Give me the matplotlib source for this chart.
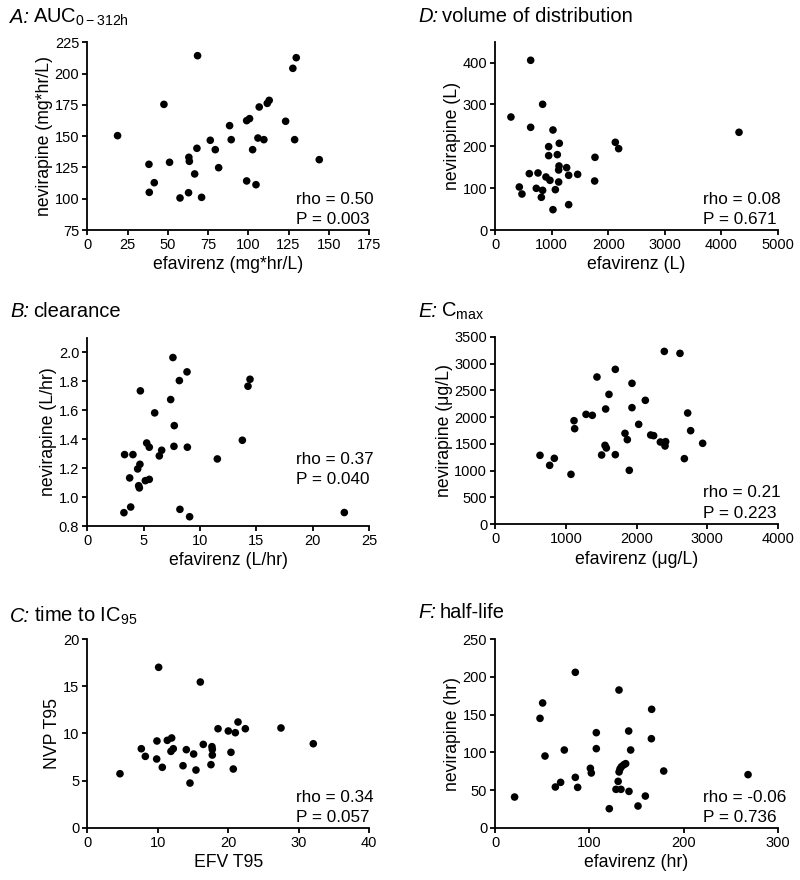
import matplotlib
matplotlib.use("Agg")
import matplotlib.pyplot as plt
import numpy as np

plt.rcParams['font.family'] = ['Liberation Sans', 'DejaVu Sans']
plt.rcParams['mathtext.fontset'] = 'custom'
plt.rcParams['mathtext.rm'] = 'Liberation Sans'
plt.rcParams['mathtext.it'] = 'Liberation Sans:italic'

# Panel A: AUC
a_efv = [18.8, 38.3, 38.5, 41.6, 47.6, 51.1, 57.6, 62.9, 63.1, 63.4, 66.7, 68.1, 68.5, 71.0,
         76.4, 79.5, 81.6, 88.4, 89.4, 99.0, 99.0, 100.8, 102.7, 104.8, 106.0, 106.8, 109.7,
         111.8, 113.0, 123.2, 127.7, 128.8, 129.8, 144.1]
a_nvp = [150.4, 127.5, 105.1, 112.8, 175.4, 129.1, 100.6, 104.8, 133.1, 129.9, 119.8, 140.3, 214.3, 101.1,
         146.7, 139.2, 124.8, 158.4, 147.2, 114.2, 162.4, 164.0, 139.2, 111.2, 148.5, 173.3, 147.2,
         176.2, 178.6, 161.9, 204.2, 147.2, 212.7, 131.2]

# Panel D: volume of distribution
d_efv = [277, 425, 472, 626, 626, 602, 726, 756, 838, 838, 815, 897, 945, 945, 968, 1021, 1021,
         1063, 1098, 1122, 1133, 1128, 1122, 1263, 1299, 1299, 1458, 1765, 1759, 2125, 2184, 4315]
d_nvp = [270, 102.8, 86, 405.6, 245.4, 134.7, 99.6, 136.3, 300.4, 94.8, 78.1, 126.7, 199.2, 177.7,
         118.7, 239, 48.6, 96.4, 180.1, 114.7, 207.2, 153, 143.4, 149, 130.7, 60.6, 133, 173.7,
         117.1, 209.6, 194.4, 233.5]

# Panel B: clearance
b_efv = [3.25, 3.31, 3.76, 3.85, 4.05, 4.47, 4.67, 4.62, 4.56, 4.71, 5.15, 5.50, 5.27, 5.50, 5.98,
         6.39, 6.60, 7.40, 7.69, 7.72, 7.60, 8.17, 8.85, 8.88, 8.22, 9.08, 11.54, 13.76, 14.26,
         14.44, 22.81]
b_nvp = [0.892, 1.293, 1.132, 0.931, 1.293, 1.194, 1.226, 1.063, 1.078, 1.733, 1.113, 1.122, 1.373,
         1.344, 1.581, 1.284, 1.323, 1.673, 1.350, 1.493, 1.963, 1.804, 1.864, 1.344, 0.915, 0.864,
         1.263, 1.392, 1.765, 1.813, 0.893]

# Panel E: Cmax
e_efv = [633, 770, 836, 1072, 1115, 1124, 1285, 1374, 1440, 1506, 1554, 1573, 1563, 1610, 1700,
         1700, 1837, 1870, 1898, 1936, 1936, 2031, 2125, 2201, 2243, 2338, 2394, 2413, 2404, 2616,
         2678, 2725, 2767, 2937]
e_nvp = [1287, 1100, 1231, 932, 1933, 1784, 2051, 2033, 2748, 1293, 1473, 1424, 2151, 2424, 2891,
         1299, 1697, 1579, 1007, 2176, 2630, 1865, 2313, 1666, 1654, 1535, 3226, 1542, 1461, 3189,
         1225, 2076, 1747, 1511]

# Panel C: time to IC95
c_efv = [4.64, 7.67, 8.24, 9.85, 9.89, 10.13, 10.65, 11.36, 11.98, 11.88, 12.21, 13.59, 14.06,
         14.58, 15.10, 15.43, 16.05, 16.47, 17.56, 17.70, 17.75, 17.75, 18.56, 20.02, 20.40, 20.73,
         21.02, 21.40, 22.44, 27.50, 32.09]
c_nvp = [5.72, 8.37, 7.56, 7.28, 9.19, 17.0, 6.40, 9.26, 9.51, 8.09, 8.37, 6.57, 8.27, 4.73, 7.81,
         6.11, 15.44, 8.83, 6.68, 8.59, 8.30, 7.70, 10.49, 10.25, 7.99, 6.22, 10.07, 11.20, 10.49,
         10.57, 8.90]

# Panel F: half-life
f_efv = [20.5, 47.5, 50.3, 52.8, 63.8, 69.4, 73.3, 85.0, 85.0, 87.5, 101, 102, 107.3, 107.3, 121.1,
         128.2, 133.5, 130.5, 131.5, 132.5, 134, 136.5, 138.5, 131.4, 141.7, 142.0, 143.8, 151.6,
         159.4, 166.1, 165.8, 178.9, 268.5]
f_nvp = [40.7, 145.1, 165.5, 95.1, 54.0, 60.2, 103.1, 66.8, 206.2, 53.5, 78.8, 72.6, 126.1, 104.9,
         25.2, 50.9, 50.9, 61.5, 74, 78, 81, 83.5, 85, 182.7, 128.3, 48.2, 103.1, 28.8, 42.0, 157.1,
         118.1, 75.2, 70.4]

W, H = 800, 880
fig = plt.figure(figsize=(W / 100, H / 100), dpi=100)
renderer = fig.canvas.get_renderer()


def add_axes(left, right, top, bottom):
    return fig.add_axes([left / W, 1 - bottom / H, (right - left) / W, (bottom - top) / H])


panels = [
    dict(box=(87.3, 369, 42.3, 230), x=a_efv, y=a_nvp, xlim=(0, 175), xt=np.arange(0, 176, 25),
         ylim=(75, 225), yt=np.arange(75, 226, 25), xl="efavirenz (mg*hr/L)", yl="nevirapine (mg*hr/L)",
         rho="rho = 0.50", p="P = 0.003", tx=0.74, ty=(0.138, 0.032), yfmt=None,
         letter="A:", title=r"AUC$_{\mathrm{0-312h}}$", tpos=(10, 23)),
    dict(box=(495.3, 777.7, 41.7, 230), x=d_efv, y=d_nvp, xlim=(0, 5000), xt=np.arange(0, 5001, 1000),
         ylim=(0, 450), yt=np.arange(0, 401, 100), xl="efavirenz (L)", yl="nevirapine (L)",
         rho="rho = 0.08", p="P = 0.671", tx=0.737, ty=(0.138, 0.032), yfmt=None,
         letter="D:", title="volume of distribution", tpos=(418, 22)),
    dict(box=(87.3, 369, 337.7, 526), x=b_efv, y=b_nvp, xlim=(0, 25), xt=np.arange(0, 26, 5),
         ylim=(0.8, 2.1), yt=np.arange(0.8, 2.01, 0.2), xl="efavirenz (L/hr)", yl="nevirapine (L/hr)",
         rho="rho = 0.37", p="P = 0.040", tx=0.74, ty=(0.328, 0.222), yfmt="{:.1f}",
         letter="B:", title="clearance", tpos=(10, 316.7)),
    dict(box=(495.3, 777.7, 336.7, 524.3), x=e_efv, y=e_nvp, xlim=(0, 4000), xt=np.arange(0, 4001, 1000),
         ylim=(0, 3500), yt=np.arange(0, 3501, 500), xl="efavirenz (μg/L)", yl="nevirapine (μg/L)",
         rho="rho = 0.21", p="P = 0.223", tx=0.737, ty=(0.144, 0.034), yfmt=None,
         letter="E:", title=r"C$_{\mathrm{max}}$", tpos=(418, 316.7)),
    dict(box=(87.3, 369, 639, 827.7), x=c_efv, y=c_nvp, xlim=(0, 40), xt=np.arange(0, 41, 10),
         ylim=(0, 20), yt=np.arange(0, 21, 5), xl="EFV T95", yl="NVP T95",
         rho="rho = 0.34", p="P = 0.057", tx=0.74, ty=(0.138, 0.032), yfmt=None,
         letter="C:", title=r"time to IC$_{\mathrm{95}}$", tpos=(10, 621.7)),
    dict(box=(495.3, 777.7, 639.3, 827.7), x=f_efv, y=f_nvp, xlim=(0, 300), xt=np.arange(0, 301, 100),
         ylim=(0, 250), yt=np.arange(0, 251, 50), xl="efavirenz (hr)", yl="nevirapine (hr)",
         rho="rho = -0.06", p="P = 0.736", tx=0.737, ty=(0.138, 0.032), yfmt=None,
         letter="F:", title="half-life", tpos=(418, 618.3)),
]

for pn in panels:
    ax = add_axes(*pn['box'])
    ax.scatter(pn['x'], pn['y'], s=30, color='black', edgecolors='none', clip_on=False, zorder=3)
    ax.set_xlim(*pn['xlim'])
    ax.set_ylim(*pn['ylim'])
    ax.set_xticks(pn['xt'])
    ax.set_yticks(pn['yt'])
    if pn['yfmt']:
        ax.set_yticklabels([pn['yfmt'].format(v) for v in pn['yt']])
    for s in ['top', 'right']:
        ax.spines[s].set_visible(False)
    for s in ['left', 'bottom']:
        ax.spines[s].set_linewidth(1.3)
    ax.tick_params(direction='out', length=3.8, width=1.3, labelsize=10.5, pad=2, colors='black')
    ax.set_xlabel(pn['xl'], fontsize=12.7, labelpad=3)
    ax.set_ylabel(pn['yl'], fontsize=12.7, labelpad=1)
    ax.text(pn['tx'], pn['ty'][0], pn['rho'], transform=ax.transAxes, fontsize=12.3, va='baseline', ha='left')
    ax.text(pn['tx'], pn['ty'][1], pn['p'], transform=ax.transAxes, fontsize=12.3, va='baseline', ha='left')
    ty = 1 - pn['tpos'][1] / H
    t1 = fig.text(pn['tpos'][0] / W, ty, pn['letter'], fontsize=14.5,
                  style='italic', va='baseline', ha='left')
    bb = t1.get_window_extent(renderer)
    fig.text((bb.x1 + 4) / W, ty, pn['title'], fontsize=14.5, va='baseline', ha='left')

fig.savefig("out.png", dpi=100)
